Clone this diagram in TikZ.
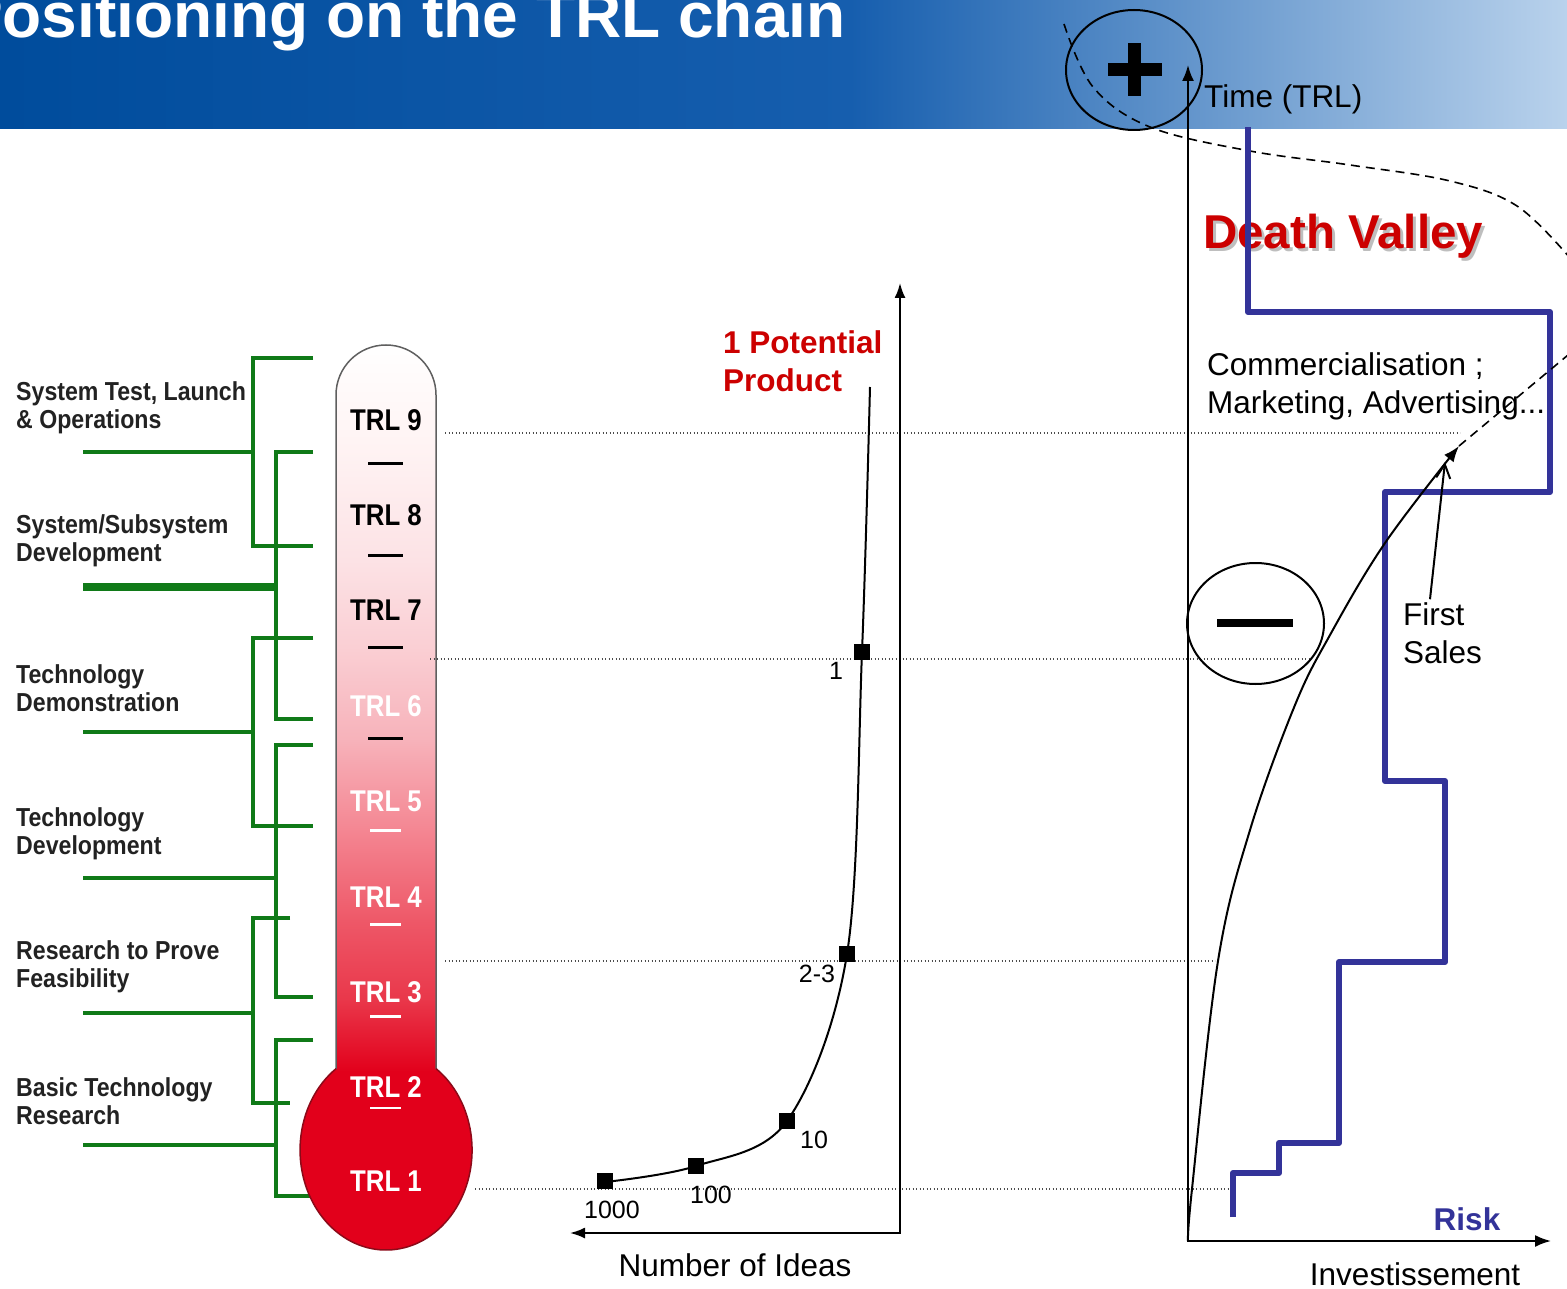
\documentclass[tikz,border=0pt]{standalone}
\usepackage{fontspec}
\setmainfont{Liberation Sans}
\newfontfamily\condfont[FakeStretch=0.89]{Liberation Sans}
\newfontfamily\thermofont[FakeStretch=0.86]{Liberation Sans}
\usetikzlibrary{arrows.meta}

\definecolor{bandDark}{RGB}{0,76,156}
\definecolor{bandMid}{RGB}{22,94,174}
\definecolor{bandLight}{RGB}{185,210,236}
\definecolor{stageGreen}{RGB}{16,122,24}
\definecolor{riskBlue}{RGB}{51,51,153}
\definecolor{alertRed}{RGB}{204,0,0}
\definecolor{bulbRed}{RGB}{226,0,27}
\definecolor{bulbEdge}{RGB}{140,10,25}
\definecolor{tubeEdge}{RGB}{95,95,95}
\definecolor{labelInk}{RGB}{34,34,34}
\definecolor{shadowGray}{RGB}{190,190,190}
\definecolor{tA}{RGB}{255,255,255}
\definecolor{tB}{RGB}{255,245,245}
\definecolor{tC}{RGB}{252,226,229}
\definecolor{tD}{RGB}{250,206,211}
\definecolor{tE}{RGB}{247,178,186}
\definecolor{tF}{RGB}{244,134,146}
\definecolor{tG}{RGB}{238,88,104}
\definecolor{tH}{RGB}{233,55,74}

\tikzset{
  stagebar/.style={draw=stageGreen, line width=4pt},
  stagelink/.style={draw=stageGreen, line width=4.5pt},
  stagetext/.style={font=\condfont\bfseries\fontsize{26}{28}\selectfont, text=labelInk,
                    anchor=west, align=left, inner sep=0pt},
  trltext/.style={font=\thermofont\bfseries\fontsize{30}{30}\selectfont, inner sep=0pt},
  trldash/.style={line width=3pt},
  gridline/.style={draw=black!70, line width=1.3pt, dash pattern=on 1.3pt off 2.2pt},
  axisline/.style={draw=black, line width=2pt},
  plainlabel/.style={font=\fontsize{31.5}{38}\selectfont, inner sep=0pt, align=left},
  countlabel/.style={font=\fontsize{25}{30}\selectfont, inner sep=0pt},
  marker/.style={rectangle, fill=black, minimum size=16pt, inner sep=0pt},
  riskline/.style={draw=riskBlue, line width=6pt, line join=round},
  sign/.style={draw=black, line width=2pt},
}

\begin{document}
\begin{tikzpicture}[x=1pt,y=-1pt]
\useasboundingbox (0,0) rectangle (1567,1289);
\clip (0,0) rectangle (1567,1289);
\fill[white] (0,0) rectangle (1567,1289);

% ---------- header band ----------
\shade[left color=bandDark, right color=bandMid] (0,0) rectangle (851,129);
\shade[left color=bandMid, right color=bandLight] (850,0) rectangle (1567,129);
\node[anchor=base west, text=white, inner sep=0pt,
      font=\bfseries\fontsize{64}{64}\selectfont] (title) at (-40,38) {Positioning on the TRL chain};

% ---------- green stage brackets ----------
\draw[stagebar] (313,358) -- (253,358) -- (253,546) -- (313,546);
\draw[stagebar] (313,452) -- (276,452) -- (276,719) -- (313,719);
\draw[stagebar] (313,638) -- (253,638) -- (253,826) -- (313,826);
\draw[stagebar] (313,745) -- (276,745) -- (276,997) -- (313,997);
\draw[stagebar] (290,918) -- (253,918) -- (253,1103) -- (290,1103);
\draw[stagebar] (313,1040) -- (276,1040) -- (276,1196) -- (310,1196);
\draw[stagelink] (83,452) -- (253,452);
\draw[stagelink, line width=8pt] (83,587) -- (276,587);
\draw[stagelink] (83,732) -- (253,732);
\draw[stagelink] (83,878) -- (276,878);
\draw[stagelink] (83,1013) -- (253,1013);
\draw[stagelink] (83,1145) -- (276,1145);

\node[stagetext] (s9) at (16,408) {System Test, Launch\\\& Operations};
\node[stagetext] (s7) at (16,541) {System/Subsystem\\Development};
\node[stagetext] (s6) at (16,688) {Technology\\Demonstration};
\node[stagetext] (s5) at (16,834) {Technology\\Development};
\node[stagetext] (s3) at (16,967) {Research to Prove\\Feasibility};
\node[stagetext] (s1) at (16,1101) {Basic Technology\\Research};

% ---------- thermometer ----------
\fill[bulbRed] (386,1150) ellipse[x radius=86, y radius=100];
\begin{scope}
  \clip (336,1085) -- (336,395) arc[start angle=180, end angle=360, radius=50] -- (436,1085) -- cycle;
  \shade[top color=tA, bottom color=tB] (330,340) rectangle (440,434);
  \shade[top color=tB, bottom color=tC] (330,433) rectangle (440,561);
  \shade[top color=tC, bottom color=tD] (330,560) rectangle (440,651);
  \shade[top color=tD, bottom color=tE] (330,650) rectangle (440,741);
  \shade[top color=tE, bottom color=tF] (330,740) rectangle (440,831);
  \shade[top color=tF, bottom color=tG] (330,830) rectangle (440,921);
  \shade[top color=tG, bottom color=tH] (330,920) rectangle (440,1001);
  \shade[top color=tH, bottom color=bulbRed] (330,1000) rectangle (440,1072);
  \fill[bulbRed] (330,1071) rectangle (440,1090);
\end{scope}
\draw[tubeEdge, line width=1.5pt] (336,1069) -- (336,395) arc[start angle=180, end angle=360, radius=50] -- (436,1069);
\draw[bulbEdge, line width=1.5pt] (436,1068.6)
  arc[start angle=-54.5, end angle=234.5, x radius=86, y radius=100];

\node[trltext, text=black] (trl9) at (386,420) {TRL 9};
\node[trltext, text=black] (trl8) at (386,515) {TRL 8};
\node[trltext, text=black] (trl7) at (386,610) {TRL 7};
\node[trltext, text=white] (trl6) at (386,706) {TRL 6};
\node[trltext, text=white] (trl5) at (386,801) {TRL 5};
\node[trltext, text=white] (trl4) at (386,897) {TRL 4};
\node[trltext, text=white] (trl3) at (386,992) {TRL 3};
\node[trltext, text=white] (trl2) at (386,1087) {TRL 2};
\node[trltext, text=white] (trl1) at (386,1181) {TRL 1};
\draw[trldash, black] (368,463) -- (403,463);
\draw[trldash, black] (368,555) -- (403,555);
\draw[trldash, black] (368,647) -- (403,647);
\draw[trldash, black] (368,738) -- (403,738);
\draw[trldash, white] (370,830) -- (401,830);
\draw[trldash, white] (370,924) -- (401,924);
\draw[trldash, white] (370,1016) -- (401,1016);
\draw[white, line width=1.5pt] (370,1108) -- (401,1108);

% ---------- level guides ----------
\draw[gridline] (445,433) -- (1460,433);
\draw[gridline] (430,659) -- (1310,659);
\draw[gridline] (445,961) -- (1215,961);
\draw[gridline] (475,1189) -- (1230,1189);

% ---------- number of ideas chart ----------
\coordinate (ideaTop) at (900,283);
\coordinate (ideaCorner) at (900,1233);
\coordinate (ideaEnd) at (570,1233);
\draw[axisline, {Latex[length=15pt,width=11pt]}-{Latex[length=15pt,width=11pt]}]
  (ideaTop) -- (ideaCorner) -- (ideaEnd);
\draw[line width=2pt] plot[smooth, tension=0.55] coordinates
  {(605,1182) (696,1166) (787,1121) (847,954) (862,652) (870,387)};
\node[marker] (m1000) at (605,1181) {};
\node[marker] (m100) at (696,1166) {};
\node[marker] (m10) at (787,1121) {};
\node[marker] (m23) at (847,954) {};
\node[marker] (m1) at (862,652) {};
\node[countlabel] (n1000) at (612,1210) {1000};
\node[countlabel] (n100) at (711,1195) {100};
\node[countlabel] (n10) at (814,1140) {10};
\node[countlabel] (n23) at (817,974) {2-3};
\node[countlabel] (n1) at (836,671) {1};
\node[plainlabel] (ideas) at (735,1265) {Number of Ideas};
\node[plainlabel, anchor=west, text=alertRed, font=\bfseries\fontsize{31.5}{38}\selectfont]
  (potential) at (723,361) {1 Potential\\Product};

% ---------- investment / risk chart ----------
\draw[black, line width=1.6pt, dash pattern=on 9pt off 6pt] plot[smooth, tension=0.6] coordinates
  {(1064,24) (1093,87) (1150,127) (1250,151) (1350,165) (1450,181) (1517,206) (1570,258)};
\node[anchor=west, inner sep=0pt, text=shadowGray, font=\bfseries\fontsize{47.5}{47.5}\selectfont]
  (dvshadow) at (1206,239) {Death Valley};
\node[anchor=west, inner sep=0pt, text=alertRed, font=\bfseries\fontsize{47.5}{47.5}\selectfont]
  (deathvalley) at (1203,236) {Death Valley};
\draw[riskline] (1233,1217) -- (1233,1173) -- (1279,1173) -- (1279,1143) -- (1339,1143)
  -- (1339,962) -- (1445,962) -- (1445,781) -- (1385,781) -- (1385,492) -- (1550,492)
  -- (1550,312) -- (1248,312) -- (1248,127);
\coordinate (timeTop) at (1188,65);
\coordinate (origin) at (1188,1241);
\coordinate (investEnd) at (1551,1241);
\draw[axisline, {Latex[length=16pt,width=12pt]}-{Latex[length=16pt,width=12pt]}]
  (timeTop) -- (origin) -- (investEnd);
\coordinate (salesTip) at (1459,446);
\draw[line width=2pt, -{Latex[length=16pt,width=12pt]}] plot[smooth, tension=0.6] coordinates
  {(1188,1241) (1192,1189) (1218,961) (1250,830) (1295,705) (1330,635) (1385,543) (1459,446)};
\draw[black, line width=1.6pt, dash pattern=on 9pt off 6pt] (salesTip) -- (1580,345);
\draw[sign] (1134,70) ellipse[x radius=68, y radius=60];
\fill (1108,63) rectangle (1162,76);
\fill (1128,43) rectangle (1141,96);
\draw[sign] (1255.5,623.5) ellipse[x radius=68.5, y radius=60.5];
\fill (1217,619) rectangle (1293,627);
\node[plainlabel, anchor=west] (timelabel) at (1204,99) {Time (TRL)};
\node[plainlabel, anchor=west] (commerce) at (1207,386) {Commercialisation ;\\Marketing, Advertising...};
\node[plainlabel, anchor=west] (firstsales) at (1403,633) {First\\Sales};
\draw[line width=2pt, -{Straight Barb[length=14pt,width=14pt]}] (firstsales.north west) ++(27,-3) -- (1445,462);
\node[plainlabel, text=riskBlue, font=\bfseries\fontsize{31.5}{38}\selectfont] (risk) at (1467,1219) {Risk};
\node[plainlabel] (invest) at (1415,1274) {Investissement};
\end{tikzpicture}
\end{document}
